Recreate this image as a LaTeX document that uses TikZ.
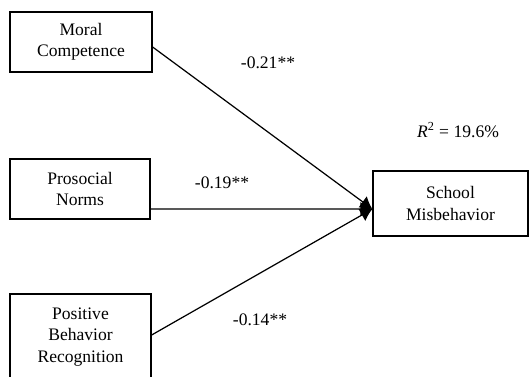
\documentclass[tikz,border=0pt]{standalone}
\usepackage{fontspec}
\setmainfont{Liberation Serif}
\usetikzlibrary{arrows.meta}
\begin{document}
\begin{tikzpicture}[
    varbox/.style={rectangle, draw=black, line width=0.7pt, fill=none, align=center, inner sep=0cm},
    path/.style={-{Latex[length=0.24cm, width=0.28cm]}, line width=0.7pt},
    coef/.style={font=\normalsize}]
\useasboundingbox (0, 0) rectangle (10.6, 7.52);
\node[varbox, minimum width=2.84cm, minimum height=1.2cm] at (1.62, 6.68) (moral) {Moral\\Competence};
\node[varbox, minimum width=2.8cm, minimum height=1.2cm] at (1.6, 3.74) (prosocial) {Prosocial\\Norms};
\node[varbox, minimum width=2.82cm, minimum height=1.72cm] at (1.61, 0.78) (positive) {Positive\\Behavior\\Recognition};
\node[varbox, minimum width=3.1cm, minimum height=1.3cm] at (9.01, 3.45) (school) {School\\Misbehavior};
\coordinate (tip) at ([yshift=-0.11cm]school.west);
\draw[path] ([yshift=-0.1cm]moral.east) -- (tip);
\draw[path] ([yshift=-0.4cm]prosocial.east) -- (tip);
\draw[path] ([yshift=0.04cm]positive.east) -- (tip);
\node[coef] at (5.36, 6.26) (b1) {-0.21**};
\node[coef] at (4.44, 3.86) (b2) {-0.19**};
\node[coef] at (5.2, 1.12) (b3) {-0.14**};
\node[coef] at (9.16, 4.92) (rsq) {\textit{R}\textsuperscript{2} = 19.6\%};
\end{tikzpicture}
\end{document}
